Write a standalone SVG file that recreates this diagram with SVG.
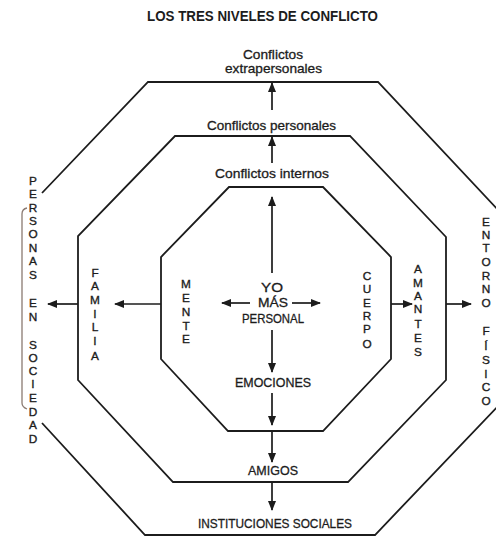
<svg xmlns="http://www.w3.org/2000/svg" width="496" height="538" viewBox="0 0 496 538">
<style>
.ln{fill:none;stroke:#1c1c1c;stroke-width:1.8;stroke-linejoin:miter}
.ar{fill:none;stroke:#1c1c1c;stroke-width:1.7}
.t{font-family:"Liberation Sans",Arial,sans-serif;font-size:13px;fill:#1c1c1c;stroke:#1c1c1c;stroke-width:0.3;text-anchor:middle}
.v{font-family:"Liberation Sans",Arial,sans-serif;font-size:11.8px;fill:#1c1c1c;stroke:#1c1c1c;stroke-width:0.35;text-anchor:middle}
.ttl{font-family:"Liberation Sans",Arial,sans-serif;font-size:14px;font-weight:bold;fill:#1c1c1c;text-anchor:middle}
</style>
<defs>
<marker id="ah" markerUnits="userSpaceOnUse" markerWidth="10" markerHeight="8" refX="9" refY="4" orient="auto">
<path d="M0,0 L10,4 L0,8 Z" fill="#1c1c1c"/>
</marker>
</defs>
<rect width="496" height="538" fill="#ffffff"/>
<g id="title"><text class="ttl" x="262.5" y="21" textLength="231" lengthAdjust="spacingAndGlyphs">LOS TRES NIVELES DE CONFLICTO</text></g>
<g id="outer-octagon">
<polyline class="ln" points="42,193 148,82 378,82 500,212"/>
<polyline class="ln" points="42,423 145,535 375,535 500,404"/>
</g>
<g id="middle-octagon"><polygon class="ln" points="175,136 350,136 446,237 446,380 348,482 173,482 78,380 78,236"/></g>
<g id="inner-octagon"><polygon class="ln" points="229,187 323,187 391,257 391,359 323,431 228,431 161,359 161,257"/></g>
<g id="connectors">
<line class="ar" x1="272" y1="110" x2="272" y2="83" marker-end="url(#ah)"/>
<line class="ar" x1="272" y1="163" x2="272" y2="137" marker-end="url(#ah)"/>
<line class="ar" x1="272" y1="273" x2="272" y2="197" marker-end="url(#ah)"/>
<line class="ar" x1="250" y1="303" x2="222" y2="303" marker-end="url(#ah)"/>
<line class="ar" x1="292" y1="303" x2="320" y2="303" marker-end="url(#ah)"/>
<line class="ar" x1="272" y1="330" x2="272" y2="372" marker-end="url(#ah)"/>
<line class="ar" x1="272" y1="393" x2="272" y2="425" marker-end="url(#ah)"/>
<line class="ar" x1="272" y1="431" x2="272" y2="462" marker-end="url(#ah)"/>
<line class="ar" x1="272" y1="482" x2="272" y2="510" marker-end="url(#ah)"/>
<line class="ar" x1="161" y1="304" x2="115" y2="304" marker-end="url(#ah)"/>
<line class="ar" x1="78" y1="304" x2="48" y2="304" marker-end="url(#ah)"/>
<line class="ar" x1="391" y1="304" x2="412" y2="304" marker-end="url(#ah)"/>
<line class="ar" x1="446" y1="304" x2="471" y2="304" marker-end="url(#ah)"/>
</g>
<g id="bracket"><path d="M27,208 Q22,209 22,214 L22,403 Q22,407 27,409" fill="none" stroke="#8a7a72" stroke-width="1.3"/></g>
<g id="conflictos-extrapersonales">
<text class="t" x="273" y="59" textLength="60" lengthAdjust="spacingAndGlyphs">Conflictos</text>
<text class="t" x="273.5" y="73" textLength="97" lengthAdjust="spacingAndGlyphs">extrapersonales</text>
</g>
<g id="conflictos-personales"><text class="t" x="271.5" y="130" textLength="129" lengthAdjust="spacingAndGlyphs">Conflictos personales</text></g>
<g id="conflictos-internos"><text class="t" x="272" y="178" textLength="114" lengthAdjust="spacingAndGlyphs">Conflictos internos</text></g>
<g id="yo">
<text class="t" x="272" y="292" textLength="22" lengthAdjust="spacingAndGlyphs">YO</text>
<text class="t" x="273" y="307" textLength="30" lengthAdjust="spacingAndGlyphs">MÁS</text>
<text class="t" x="273" y="323" textLength="62" lengthAdjust="spacingAndGlyphs">PERSONAL</text>
</g>
<g id="emociones"><text class="t" x="273" y="387" textLength="76" lengthAdjust="spacingAndGlyphs">EMOCIONES</text></g>
<g id="amigos"><text class="t" x="273" y="475" textLength="50" lengthAdjust="spacingAndGlyphs">AMIGOS</text></g>
<g id="instituciones"><text class="t" x="275" y="528" textLength="154" lengthAdjust="spacingAndGlyphs">INSTITUCIONES SOCIALES</text></g>
<g id="mente"><text class="v"><tspan x="186" y="288">M</tspan><tspan x="186" y="302">E</tspan><tspan x="186" y="316">N</tspan><tspan x="186" y="330">T</tspan><tspan x="186" y="343">E</tspan></text></g>
<g id="cuerpo"><text class="v"><tspan x="367" y="280">C</tspan><tspan x="367" y="293">U</tspan><tspan x="367" y="307">E</tspan><tspan x="367" y="320">R</tspan><tspan x="367" y="333">P</tspan><tspan x="367" y="348">O</tspan></text></g>
<g id="familia"><text class="v"><tspan x="95" y="277">F</tspan><tspan x="95" y="290">A</tspan><tspan x="95" y="304">M</tspan><tspan x="95" y="318">I</tspan><tspan x="95" y="331">L</tspan><tspan x="95" y="345">I</tspan><tspan x="95" y="360">A</tspan></text></g>
<g id="amantes"><text class="v"><tspan x="418" y="273">A</tspan><tspan x="418" y="287">M</tspan><tspan x="418" y="300">A</tspan><tspan x="418" y="313">N</tspan><tspan x="418" y="328">T</tspan><tspan x="418" y="342">E</tspan><tspan x="418" y="356">S</tspan></text></g>
<g id="personas-en-sociedad"><text class="v"><tspan x="33" y="185">P</tspan><tspan x="33" y="198">E</tspan><tspan x="33" y="212">R</tspan><tspan x="33" y="225">S</tspan><tspan x="33" y="238">O</tspan><tspan x="33" y="252">N</tspan><tspan x="33" y="265">A</tspan><tspan x="33" y="279">S</tspan><tspan x="33" y="307">E</tspan><tspan x="33" y="321">N</tspan><tspan x="33" y="349">S</tspan><tspan x="33" y="362">O</tspan><tspan x="33" y="375">C</tspan><tspan x="33" y="388">I</tspan><tspan x="33" y="402">E</tspan><tspan x="33" y="416">D</tspan><tspan x="33" y="429">A</tspan><tspan x="33" y="443">D</tspan></text></g>
<g id="entorno-fisico"><text class="v"><tspan x="486" y="226">E</tspan><tspan x="486" y="239">N</tspan><tspan x="486" y="252">T</tspan><tspan x="486" y="266">O</tspan><tspan x="486" y="280">R</tspan><tspan x="486" y="293">N</tspan><tspan x="486" y="307">O</tspan><tspan x="486" y="335">F</tspan><tspan x="486" y="350">Í</tspan><tspan x="486" y="364">S</tspan><tspan x="486" y="378">I</tspan><tspan x="486" y="391">C</tspan><tspan x="486" y="405">O</tspan></text></g>
</svg>
